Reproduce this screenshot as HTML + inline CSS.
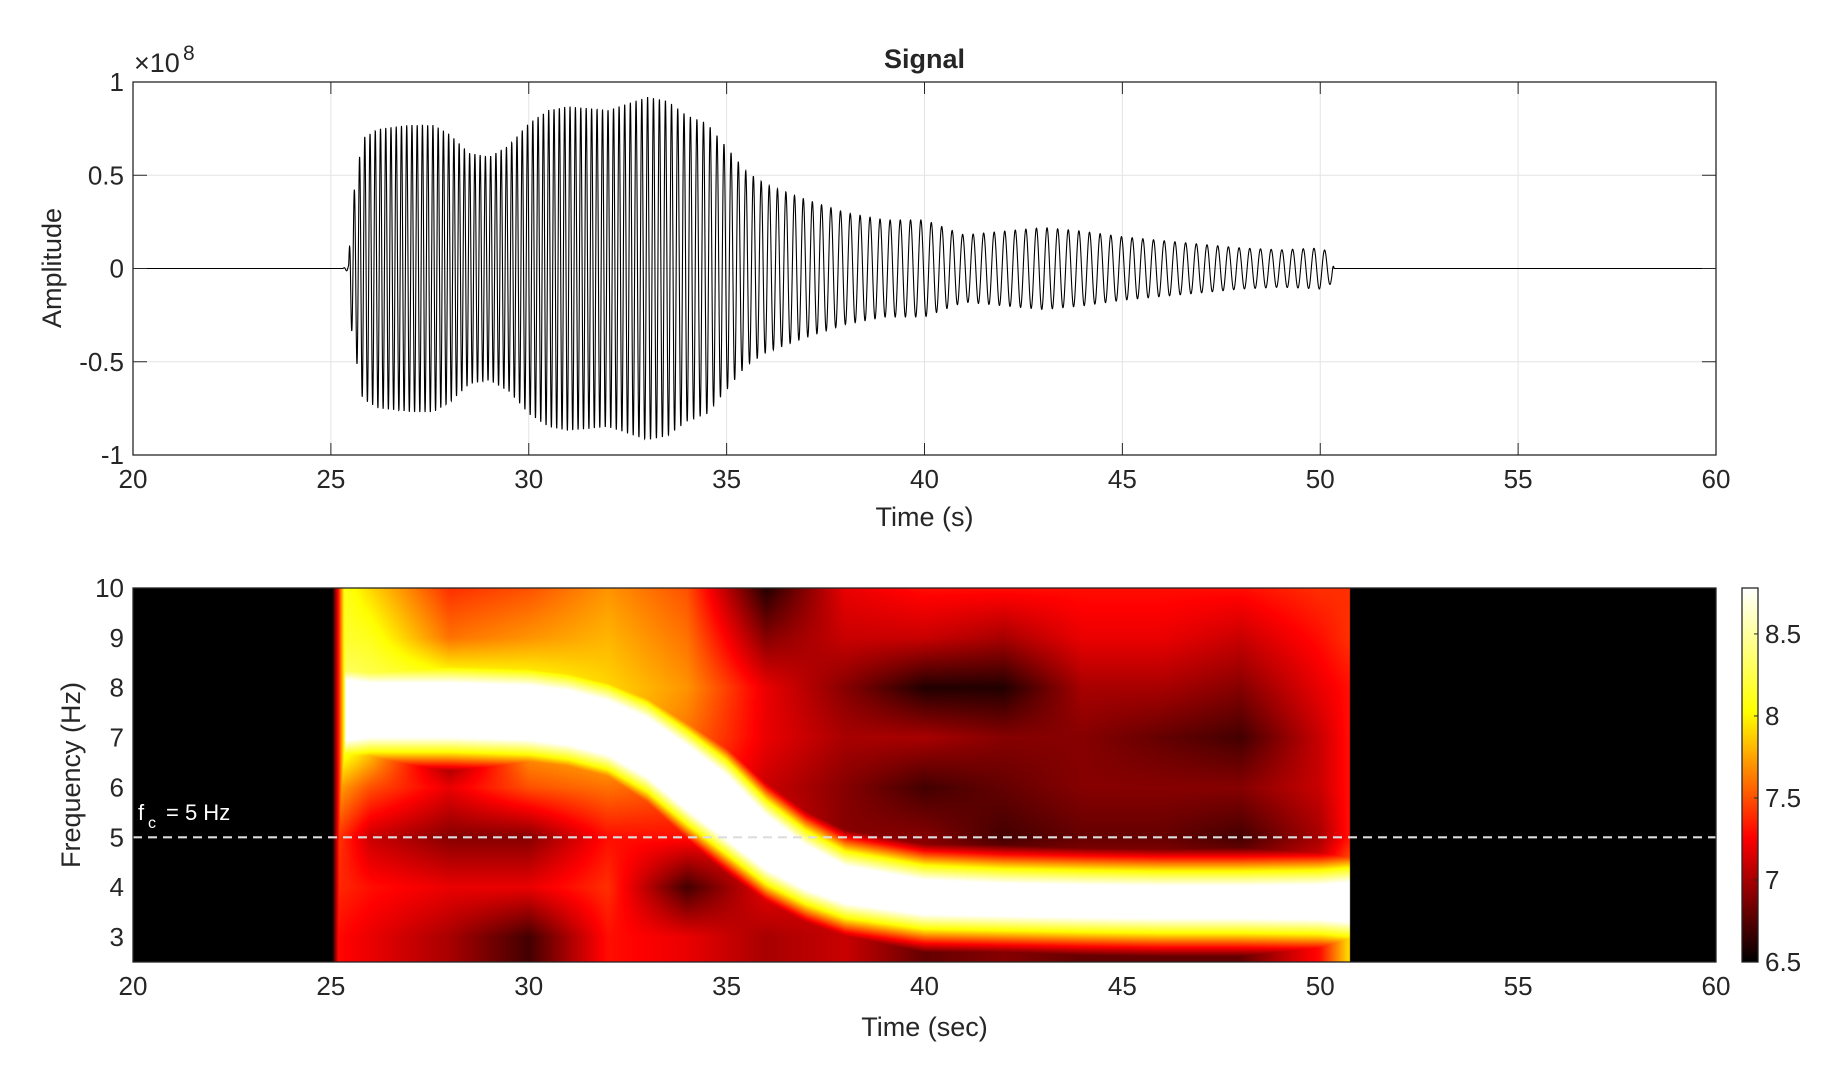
<!DOCTYPE html>
<html><head><meta charset="utf-8">
<style>
html,body{margin:0;padding:0;background:#fff;width:1848px;height:1081px;overflow:hidden}
#root{position:relative;width:1848px;height:1081px}
svg text{font-family:"Liberation Sans","DejaVu Sans",sans-serif;fill:#262626}
canvas{position:absolute}
</style></head>
<body>
<div id="root">
<canvas id="heat" width="1583" height="374" style="left:133px;top:588px"></canvas>
<canvas id="cbar" width="16" height="374" style="left:1742px;top:588px"></canvas>
<svg id="svg" width="1848" height="1081" style="position:absolute;left:0;top:0" xmlns="http://www.w3.org/2000/svg"></svg>
</div>
<script>
// ---- signal envelope data (amplitude in 1e8 units) ----
const envTimes=[25.3,25.45,25.5,25.8,26.2,27,27.6,28,28.5,29,29.5,30,30.5,31,32,33,33.5,34,34.5,35,35.5,36,37,38,39,40,41,42,43,44,45,46,47,48,49,50,50.3,50.35];
const envAmp=[0,0.02,0.3,0.7,0.75,0.77,0.77,0.72,0.62,0.6,0.66,0.78,0.85,0.87,0.85,0.92,0.9,0.82,0.78,0.65,0.52,0.45,0.37,0.3,0.26,0.26,0.18,0.2,0.22,0.2,0.17,0.15,0.13,0.11,0.1,0.11,0.08,0];
// ---- spectrogram ridge data ----
const ridgeTimes=[25,26,28,30,31,32,33,34,35,36,37,38,40,42,44,46,48,50,50.7];
const ridgeFreq=[7.55,7.55,7.55,7.5,7.4,7.2,6.8,6.2,5.6,4.9,4.4,4.05,3.8,3.75,3.72,3.7,3.7,3.7,3.7];
const ridgeHalfWidth=[0.6,0.5,0.5,0.5,0.5,0.5,0.55,0.6,0.6,0.5,0.4,0.33,0.3,0.28,0.28,0.28,0.28,0.3,0.35];
// ---- spectrogram background grid ----
const bgTimes=[25,26,28,30,32,34,36,38,40,42,44,46,48,50,50.7];
const bgFreqs=[3,4,5,6,7,8,9,10];
const bgValues=[
[7.3,7.4,7.5,7.8,8.4,8.4,8.2,8.2],
[7.2,7.3,7.1,7.5,8.0,8.3,8.1,7.9],
[7.0,7.2,6.9,7.2,6.7,8.2,7.6,7.4],
[6.7,7.2,6.9,7.5,7.8,8.1,7.7,7.5],
[7.3,7.4,7.3,7.6,7.9,7.9,7.8,7.7],
[7.2,6.7,7.3,7.5,7.6,7.7,7.6,7.5],
[7.0,7.2,7.2,7.1,7.2,7.2,6.9,6.6],
[7.1,7.1,6.9,6.9,7.0,6.9,7.1,7.2],
[6.8,7.0,6.9,6.7,7.0,6.6,7.1,7.3],
[6.9,7.1,6.7,6.8,6.9,6.6,7.0,7.3],
[6.8,7.1,6.8,6.9,6.9,7.0,7.2,7.3],
[6.8,7.1,6.8,6.9,6.8,7.0,7.2,7.3],
[6.8,7.1,6.7,6.9,6.7,6.9,7.1,7.3],
[7.3,7.3,7.0,7.1,7.1,7.2,7.3,7.4],
[7.9,7.7,7.3,7.3,7.3,7.3,7.4,7.4]];
const xTicks=[20,25,30,35,40,45,50,55,60];
const ampTicks=[-1,-0.5,0,0.5,1];
const ampTickLabels=["-1","-0.5","0","0.5","1"];
const freqTicks=[3,4,5,6,7,8,9,10];
const cbTicks=[6.5,7,7.5,8,8.5];
const cbTickLabels=["6.5","7","7.5","8","8.5"];

const NS="http://www.w3.org/2000/svg";
const svg=document.getElementById('svg');
const L=133,R=1716,T1=82,B1=455,T2=588,B2=962;
const xs=t=>L+(t-20)/40*(R-L);
const ya=v=>T1+(1-v)/2*(B1-T1);
const yf=f=>T2+(10-f)/7.5*(B2-T2);
function mk(tag,attrs,txt){const e=document.createElementNS(NS,tag);for(const k in attrs)e.setAttribute(k,attrs[k]);if(txt!==undefined)e.textContent=txt;svg.appendChild(e);return e;}
function interp(xa,ya_,x){if(x<=xa[0])return ya_[0];for(let i=1;i<xa.length;i++){if(x<=xa[i]){const u=(x-xa[i-1])/(xa[i]-xa[i-1]);return ya_[i-1]+u*(ya_[i]-ya_[i-1]);}}return ya_[ya_.length-1];}

// --- top axes grid ---
xTicks.forEach(t=>{const g=mk('line',{x1:xs(t),x2:xs(t),y1:T1,y2:B1,stroke:'#e3e3e3','stroke-width':1});
});
ampTicks.forEach(v=>{const g=mk('line',{x1:L,x2:R,y1:ya(v),y2:ya(v),stroke:'#e3e3e3','stroke-width':1});
});

// --- signal ---
let d='M'+L+','+ya(0);let phase=0;const dt=0.004;
for(let t=20;t<=60;t+=dt){
  const f=interp(ridgeTimes,ridgeFreq,t);
  phase+=2*Math.PI*f*dt;
  const a=(t<envTimes[0]||t>envTimes[envTimes.length-1])?0:interp(envTimes,envAmp,t);
  d+=' L'+xs(t).toFixed(2)+','+ya(a*Math.sin(phase)).toFixed(2);
}
const sig=mk('path',{d:d,fill:'none',stroke:'#000','stroke-width':1.1});


// --- top axes box + ticks ---
const box1=mk('rect',{x:L,y:T1,width:R-L,height:B1-T1,fill:'none',stroke:'#262626','stroke-width':1.3});

xTicks.forEach(t=>{mk('line',{x1:xs(t),x2:xs(t),y1:B1,y2:B1-12,stroke:'#262626'});mk('line',{x1:xs(t),x2:xs(t),y1:T1,y2:T1+12,stroke:'#262626'});
 const lb=mk('text',{x:xs(t),y:488,'font-size':26,'text-anchor':'middle'},t);
 });
ampTicks.forEach((v,i)=>{mk('line',{x1:L,x2:L+14,y1:ya(v),y2:ya(v),stroke:'#262626'});mk('line',{x1:R,x2:R-14,y1:ya(v),y2:ya(v),stroke:'#262626'});
 const lb=mk('text',{x:124,y:ya(v)+9,'font-size':26,'text-anchor':'end'},ampTickLabels[i]);
 });
const ex=mk('text',{x:134,y:72,'font-size':27},'×10');
const ex2=mk('text',{x:183,y:60,'font-size':21},'8');
const tt=mk('text',{x:(L+R)/2,y:68,'font-size':27,'font-weight':'bold','text-anchor':'middle',fill:'#000'},'Signal');

const xl1=mk('text',{x:(L+R)/2,y:526,'font-size':27,'text-anchor':'middle'},'Time (s)');

const yl1=mk('text',{x:0,y:0,'font-size':27,'text-anchor':'middle',transform:'translate(61,268) rotate(-90)'},'Amplitude');


// --- heatmap ---
function hot(v){const lo=6.5,hi=8.78;let u=(v-lo)/(hi-lo);u=Math.max(0,Math.min(1,u));
 const r=Math.min(1,u*3),g=Math.min(1,Math.max(0,u*3-1)),b=Math.min(1,Math.max(0,u*3-2));return [r*255,g*255,b*255];}
function bgVal(t,f){
 let i=0;while(i<bgTimes.length-2&&t>bgTimes[i+1])i++;
 let u=(t-bgTimes[i])/(bgTimes[i+1]-bgTimes[i]);u=Math.max(0,Math.min(1,u));
 const c0=interp(bgFreqs,bgValues[i],f),c1=interp(bgFreqs,bgValues[i+1],f);return c0+u*(c1-c0);}
const hc=document.getElementById('heat').getContext('2d');
const W=1583,H=374;const img=hc.createImageData(W,H);
for(let px=0;px<W;px++){
 const t=20+(px+0.5)/W*40;
 const active=t>=25.05&&t<=50.75;
 const fc=interp(ridgeTimes,ridgeFreq,t),hw=interp(ridgeTimes,ridgeHalfWidth,t);
 for(let py=0;py<H;py++){
  const f=10-(py+0.5)/H*7.5;let v=6.4;
  if(active){
   v=bgVal(t,f);
   const dd=Math.max(0,Math.abs(f-fc)-hw);
   const rv=8.9-dd*2.6;
   if(rv>v)v=rv;
   if(t<25.35)v=Math.min(v,6.6+(t-25.05)*5);
  }
  const c=hot(v);const k=(py*W+px)*4;img.data[k]=c[0];img.data[k+1]=c[1];img.data[k+2]=c[2];img.data[k+3]=255;
 }}
hc.putImageData(img,0,0);
// colorbar
const cc=document.getElementById('cbar').getContext('2d');
for(let py=0;py<H;py++){const v=8.78-(py+0.5)/H*2.28;const c=hot(v);cc.fillStyle='rgb('+c.map(Math.round).join(',')+')';cc.fillRect(0,py,16,1);}

// --- bottom axes ---
const dl=mk('line',{x1:L,x2:R,y1:yf(5),y2:yf(5),stroke:'#dddddd','stroke-width':2.2,'stroke-dasharray':'9,6'});

const fl=mk('text',{x:138,y:820,'font-size':22,style:'fill:#fff'},'f');
mk('text',{x:148,y:828,'font-size':16,style:'fill:#fff'},'c');
mk('text',{x:166,y:820,'font-size':22,style:'fill:#fff'},'= 5 Hz');
const box2=mk('rect',{x:L,y:T2,width:R-L,height:B2-T2,fill:'none',stroke:'#262626','stroke-width':1.3});

xTicks.forEach(t=>{const lb=mk('text',{x:xs(t),y:995,'font-size':26,'text-anchor':'middle'},t);
 });
freqTicks.forEach(f=>{const lb=mk('text',{x:124,y:yf(f)+9,'font-size':26,'text-anchor':'end'},f);
 });
const xl2=mk('text',{x:(L+R)/2,y:1036,'font-size':27,'text-anchor':'middle'},'Time (sec)');

const yl2=mk('text',{x:0,y:0,'font-size':27,'text-anchor':'middle',transform:'translate(80,775) rotate(-90)'},'Frequency (Hz)');

// colorbar frame/ticks
const cy=v=>T2+(8.78-v)/2.28*(B2-T2);
const cbf=mk('rect',{x:1742,y:T2,width:16,height:B2-T2,fill:'none',stroke:'#262626','stroke-width':1.3});

cbTicks.forEach((v,i)=>{mk('line',{x1:1754,x2:1758,y1:cy(v),y2:cy(v),stroke:'#262626'});
 const lb=mk('text',{x:1765,y:cy(v)+9,'font-size':26},cbTickLabels[i]);
 });
</script>
</body></html>
